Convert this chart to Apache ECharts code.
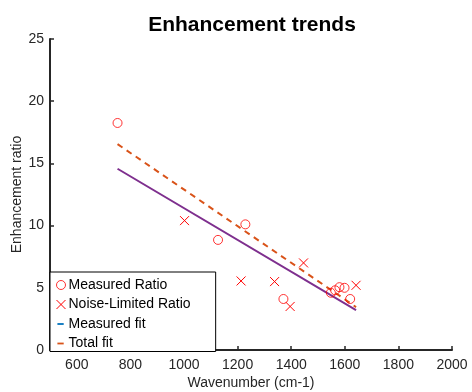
<!DOCTYPE html>
<html>
<head>
<meta charset="utf-8">
<script src="https://cdn.jsdelivr.net/npm/echarts@6/dist/echarts.min.js"></script>
<style>
  html, body { margin: 0; padding: 0; background: #fff; }
  #chart { width: 472px; height: 392px; }
</style>
</head>
<body>
<div id="chart"></div>
<script>
// measured ratio points
const measuredX = [752, 1127, 1229, 1371, 1548, 1564, 1580, 1599, 1620]
const measuredY = [18.25, 8.85, 10.1, 4.1, 4.6, 4.8, 5.05, 5.0, 4.1]
// noise-limited points
const noiseX = [1002, 1213, 1338, 1396, 1446, 1642]
const noiseY = [10.4, 5.55, 5.5, 3.5, 7.0, 5.2]
// fitted lines (end points)
const fitX = [752, 1642]
const measuredFitY = [14.57, 3.2]
const totalFitY = [16.55, 3.45]

const xTicks = [600, 800, 1000, 1200, 1400, 1600, 1800, 2000]
const yTicks = [0, 5, 10, 15, 20, 25]

const FONT = 'Liberation Sans'
const AXIS_COLOR = '#262626'
const RED = '#ff0000'
const CLEAR = 'rgba(255,255,255,0)'
// X marker, only strokes show
const CROSS = 'path://M0,0L10,10M10,0L0,10'
// short dash with padding so legend keeps it small
const DASH = 'path://M0,0M10,10M1,4h7v2h-7z'

const zip = (xs, ys) => xs.map((x, i) => [x, ys[i]])

const chart = echarts.init(document.getElementById('chart'))

const option = {
  animation: false,
  textStyle: { fontFamily: FONT },
  title: {
    text: 'Enhancement trends',
    left: 247,
    top: 10,
    textAlign: 'center',
    textStyle: { fontFamily: FONT, fontSize: 21, fontWeight: 'bold', color: '#000' },
  },
  grid: { left: 50, right: 20, top: 39, bottom: 42, outerBoundsMode: 'none' },
  legend: {
    orient: 'vertical',
    left: 50,
    top: 272,
    padding: [6, 25, 1, 6],
    itemGap: 5.5,
    itemWidth: 9,
    itemHeight: 9,
    selectedMode: false,
    backgroundColor: '#fff',
    borderColor: '#000',
    borderWidth: 1,
    borderRadius: 0,
    textStyle: { fontFamily: FONT, fontSize: 14, color: '#000', padding: [0, 0, 0, -2] },
    data: [
      { name: 'Measured Ratio', icon: 'circle', itemStyle: { color: CLEAR, borderColor: RED, borderWidth: 1 } },
      { name: 'Noise-Limited Ratio', icon: CROSS, itemStyle: { color: RED, borderColor: RED, borderWidth: 1 } },
      { name: 'Measured fit', icon: DASH, itemStyle: { color: '#0072bd', borderWidth: 0 } },
      { name: 'Total fit', icon: DASH, itemStyle: { color: '#d95319', borderWidth: 0 } },
    ],
  },
  xAxis: {
    type: 'value',
    min: 500,
    max: 2000,
    interval: 100,
    name: 'Wavenumber (cm-1)',
    nameLocation: 'middle',
    nameGap: 26,
    nameMoveOverlap: false,
    nameTextStyle: { fontFamily: FONT, fontSize: 14, color: AXIS_COLOR },
    axisLine: { show: true, onZero: false, lineStyle: { color: AXIS_COLOR, width: 2 } },
    axisTick: { show: true, inside: true, length: 4, customValues: xTicks, lineStyle: { color: AXIS_COLOR, width: 1.5 } },
    axisLabel: {
      customValues: xTicks,
      margin: 8,
      fontFamily: FONT,
      fontSize: 14,
      color: AXIS_COLOR,
      formatter: (v) => String(v),
    },
    splitLine: { show: false },
  },
  yAxis: {
    type: 'value',
    min: 0,
    max: 25,
    interval: 5,
    name: 'Enhancement ratio',
    nameLocation: 'middle',
    nameGap: 26,
    nameMoveOverlap: false,
    nameTextStyle: { fontFamily: FONT, fontSize: 14, color: AXIS_COLOR },
    axisLine: { show: true, onZero: false, lineStyle: { color: AXIS_COLOR, width: 2 } },
    axisTick: { show: true, inside: true, length: 4, customValues: yTicks, lineStyle: { color: AXIS_COLOR, width: 1.5 } },
    axisLabel: { customValues: yTicks, margin: 6, fontFamily: FONT, fontSize: 14, color: AXIS_COLOR },
    splitLine: { show: false },
  },
  series: [
    {
      name: 'Measured Ratio',
      type: 'scatter',
      symbol: 'circle',
      symbolSize: 9,
      silent: true,
      emphasis: { disabled: true },
      itemStyle: { color: CLEAR, borderColor: RED, borderWidth: 1 },
      data: zip(measuredX, measuredY),
      z: 3,
    },
    {
      name: 'Noise-Limited Ratio',
      type: 'scatter',
      symbol: CROSS,
      symbolSize: 9,
      silent: true,
      emphasis: { disabled: true },
      itemStyle: { color: RED, borderColor: RED, borderWidth: 1, opacity: 1 },
      // per-item style so every marker is drawn red
      data: zip(noiseX, noiseY).map((d) => ({
        value: d,
        itemStyle: { color: RED, borderColor: RED },
      })),
      z: 10,
    },
    {
      name: 'Measured fit',
      type: 'line',
      showSymbol: false,
      symbol: 'none',
      silent: true,
      lineStyle: { color: '#7e2f8e', width: 2 },
      itemStyle: { color: '#7e2f8e' },
      data: zip(fitX, measuredFitY),
      z: 2,
    },
    {
      name: 'Total fit',
      type: 'line',
      showSymbol: false,
      symbol: 'none',
      silent: true,
      lineStyle: { color: '#d95319', width: 2, type: [6, 5] },
      itemStyle: { color: '#d95319' },
      data: zip(fitX, totalFitY),
      z: 2,
    },
  ],
}

chart.setOption(option)
</script>
</body>
</html>
